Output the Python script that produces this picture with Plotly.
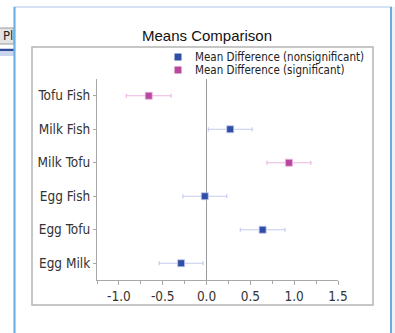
import plotly.graph_objects as go

# ---- data ----
pairs = ["Egg Milk", "Egg Tofu", "Egg Fish", "Milk Tofu", "Milk Fish", "Tofu Fish"]
mean_diff = [-0.29, 0.64, -0.02, 0.94, 0.27, -0.66]
err_half = [0.25, 0.255, 0.25, 0.25, 0.25, 0.255]
significant = [False, False, False, True, False, True]
x_tickvals = [-1.0, -0.5, 0.0, 0.5, 1.0, 1.5]
x_ticktext = ["-1.0", "-0.5", "0.0", "0.5", "1.0", "1.5"]
legend_names = ["Mean Difference (nonsignificant)", "Mean Difference (significant)"]

W, H = 395, 333
L, R, T, B = 97, 338, 79, 280  # plot area in px


def px(xp):
    return (xp - L) / (R - L)


def py(yp):
    return (B - yp) / (B - T)


BLUE = "#2F4EA6"
BLUE_ERR = "#C6CAEE"
MAG = "#B8479E"
MAG_ERR = "#EAB6E2"
TICKFONT = dict(family="DejaVu Sans Condensed, DejaVu Sans", size=13.5, color="#333333")

fig = go.Figure()
for sig, col, ecol, name in [(False, BLUE, BLUE_ERR, legend_names[0]),
                              (True, MAG, MAG_ERR, legend_names[1])]:
    xs = [d for d, s in zip(mean_diff, significant) if s == sig]
    ys = [p for p, s in zip(pairs, significant) if s == sig]
    es = [e for e, s in zip(err_half, significant) if s == sig]
    fig.add_trace(go.Scatter(
        x=xs, y=ys, mode="markers", name=name, showlegend=False,
        marker=dict(symbol="square", size=7, color=col,
                    line=dict(width=0.8, color=ecol)),
        error_x=dict(type="data", array=es, color=ecol, thickness=1.2, width=2),
    ))

shapes = []
# dialog borders
shapes.append(dict(type="line", xref="paper", yref="paper",
                   x0=px(14), x1=px(392), y0=py(7), y1=py(7),
                   line=dict(color="#A9C6E4", width=1.2), layer="above"))
# button outside dialog
shapes.append(dict(type="rect", xref="paper", yref="paper",
                   x0=px(-2), x1=px(14), y0=py(28), y1=py(44),
                   fillcolor="#E4E4E4", line=dict(color="#9A9A9A", width=1), layer="below"))
shapes.append(dict(type="line", xref="paper", yref="paper",
                   x0=px(0), x1=px(14), y0=py(50), y1=py(50),
                   line=dict(color="#2E4C9C", width=2.5), layer="below"))
shapes.append(dict(type="rect", xref="paper", yref="paper",
                   x0=px(0), x1=px(14), y0=py(52), y1=py(56),
                   fillcolor="#C9D6EE", line=dict(width=0), layer="below"))
shapes.append(dict(type="line", xref="paper", yref="paper",
                   x0=px(14.5), x1=px(14.5), y0=py(7), y1=py(340),
                   line=dict(color="#6FB0E2", width=2.2), layer="above"))
shapes.append(dict(type="line", xref="paper", yref="paper",
                   x0=px(391), x1=px(391), y0=py(7), y1=py(340),
                   line=dict(color="#6FA9DC", width=2), layer="above"))
shapes.append(dict(type="rect", xref="paper", yref="paper",
                   x0=px(392), x1=px(400), y0=py(7), y1=py(340),
                   fillcolor="#EEF1F5", line=dict(width=0), layer="below"))
# chart frame
shapes.append(dict(type="rect", xref="paper", yref="paper",
                   x0=px(32), x1=px(373), y0=py(47), y1=py(305),
                   line=dict(color="#B4B4B4", width=1.5), layer="below"))
# legend swatches
for yy, col in [(57, BLUE), (70, MAG)]:
    shapes.append(dict(type="rect", xref="paper", yref="paper",
                       x0=px(174.5), x1=px(181.5), y0=py(yy - 3.5), y1=py(yy + 3.5),
                       fillcolor=col, line=dict(width=0), layer="above"))

annotations = []
for yy, name in [(57, legend_names[0]), (70, legend_names[1])]:
    annotations.append(dict(xref="paper", yref="paper", x=px(193), y=py(yy),
                            xanchor="left", yanchor="middle", showarrow=False,
                            text=name,
                            font=dict(family="DejaVu Sans Condensed, DejaVu Sans", size=11.5, color="#222")))
annotations.append(dict(xref="paper", yref="paper", x=px(0), y=py(5),
                        xanchor="left", yanchor="bottom", showarrow=False,
                        text="nt at the 0.05 level.",
                        font=dict(family="DejaVu Sans", size=11, color="#333")))
annotations.append(dict(xref="paper", yref="paper", x=px(1), y=py(36),
                        xanchor="left", yanchor="middle", showarrow=False,
                        text="Pl",
                        font=dict(family="DejaVu Sans Condensed, DejaVu Sans", size=13, color="#222")))

fig.update_layout(
    width=W, height=H,
    margin=dict(l=L, r=W - R, t=T, b=H - B, pad=0),
    paper_bgcolor="white", plot_bgcolor="white",
    title=dict(text="Means Comparison", xref="container", yref="container",
               x=207 / W, xanchor="center", y=(H - 35.5) / H, yanchor="middle",
               font=dict(family="Liberation Sans, Arial", size=15, color="#111")),
    shapes=shapes, annotations=annotations,
    showlegend=False,
)
fig.update_xaxes(
    range=[-1.25, 1.5], tickvals=x_tickvals, ticktext=x_ticktext,
    showgrid=False, showline=True, linecolor="#A8A8A8", linewidth=1.2,
    ticks="outside", ticklen=4, tickcolor="#A8A8A8", tickwidth=1,
    minor=dict(dtick=0.25, tick0=0, ticks="outside", ticklen=3, tickcolor="#A8A8A8", showgrid=False),
    zeroline=True, zerolinecolor="#9A9A9A", zerolinewidth=1.2,
    tickfont=TICKFONT,
)
fig.update_yaxes(
    type="category", categoryorder="array", categoryarray=pairs,
    range=[-0.5, 5.5], showgrid=False, showline=True, linecolor="#A8A8A8", linewidth=1.2,
    ticks="outside", ticklen=3, tickcolor="#A8A8A8", tickwidth=1,
    zeroline=False, tickfont=TICKFONT,
)

fig.write_html("out.html", config={"displayModeBar": False},
               post_script="document.body.style.margin='0';document.body.style.overflow='hidden';")
